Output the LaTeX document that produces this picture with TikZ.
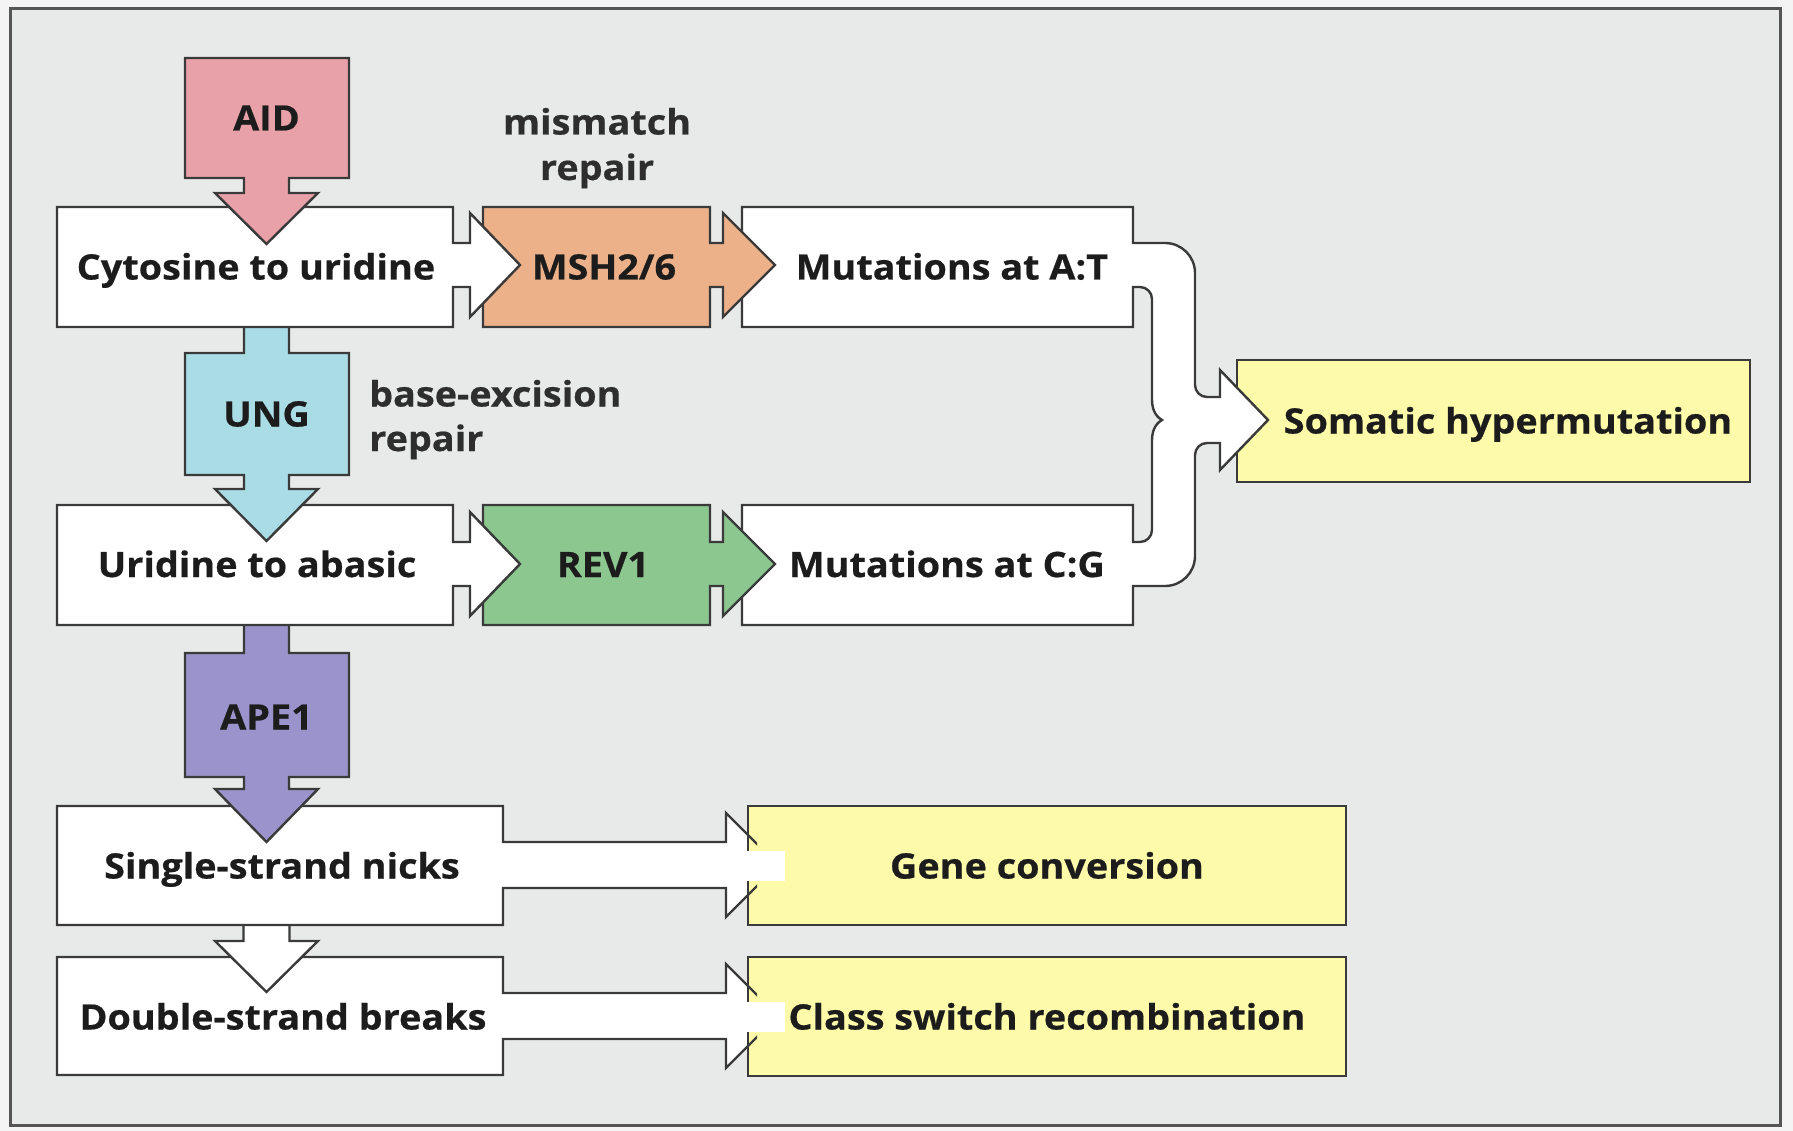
\documentclass[tikz,border=0pt]{standalone}
\usepackage{fontspec}
\setmainfont{Open Sans}[BoldFeatures={FakeStretch=1.08,FakeBold=0.5}]
\definecolor{pagebg}{HTML}{F4F4F4}
\definecolor{panelbg}{HTML}{E8E9E9}
\definecolor{framec}{HTML}{555555}
\definecolor{linec}{HTML}{3A3A3A}
\definecolor{textc}{HTML}{1C1C1C}
\definecolor{notec}{HTML}{2E2E2E}
\definecolor{aidc}{HTML}{E9A1A9}
\definecolor{mshc}{HTML}{EDB189}
\definecolor{ungc}{HTML}{A9DCE4}
\definecolor{revc}{HTML}{8DC790}
\definecolor{apec}{HTML}{9B94CC}
\definecolor{outc}{HTML}{FDFAAA}
\begin{document}
\begin{tikzpicture}[x=1pt,y=-1pt,line join=miter,
  outline/.style={draw=linec,line width=2.4pt},
  lbl/.style={font=\fontsize{35}{45}\selectfont\bfseries,text=textc,inner sep=0pt,anchor=base},
  note/.style={font=\fontsize{35}{45}\selectfont\bfseries,text=notec,inner sep=0pt}]

% canvas and panel
\fill[pagebg] (0,0) rectangle (1793,1131);
\useasboundingbox (0,0) rectangle (1793,1131);
\draw[fill=panelbg,draw=framec,line width=3pt] (10,9) rectangle (1780,1125);

% outcome box for the mutation branch
\draw[outline,fill=outc] (1237,360) rectangle (1750,482);

% the two mutation boxes joined by the brace arrow
\draw[outline,fill=white] (742,207) -- (1133,207) -- (1133,243) -- (1165,243)
  .. controls (1181.6,243) and (1195,256.4) .. (1195,273) -- (1195,385)
  .. controls (1195,391.6) and (1200.4,397) .. (1207,397) -- (1220,397) -- (1220,370)
  -- (1268,420) -- (1220,470) -- (1220,443) -- (1207,443)
  .. controls (1200.4,443) and (1195,448.4) .. (1195,455) -- (1195,556)
  .. controls (1195,572.6) and (1181.6,586) .. (1165,586) -- (1133,586)
  -- (1133,625) -- (742,625) -- (742,505) -- (1133,505) -- (1133,542) -- (1140,542)
  .. controls (1146.6,542) and (1152,536.6) .. (1152,530) -- (1152,440)
  .. controls (1152,428) and (1158,422) .. (1162,420)
  .. controls (1158,418) and (1152,412) .. (1152,400) -- (1152,299)
  .. controls (1152,292.4) and (1146.6,287) .. (1140,287) -- (1133,287)
  -- (1133,327) -- (742,327) -- cycle;

% repair enzymes with their arrows
\draw[outline,fill=mshc] (483,207) -- (710,207) -- (710,243) -- (723,243) -- (723,213)
  -- (775,265) -- (723,317) -- (723,287) -- (710,287) -- (710,327) -- (483,327) -- cycle;
\draw[outline,fill=revc] (483,505) -- (710,505) -- (710,542) -- (723,542) -- (723,512)
  -- (775,564) -- (723,616) -- (723,586) -- (710,586) -- (710,625) -- (483,625) -- cycle;

% double-strand breaks with its arrow
\draw[outline,fill=white] (57,957) -- (503,957) -- (503,993) -- (726,993) -- (726,964)
  -- (778,1016) -- (726,1068) -- (726,1039) -- (503,1039) -- (503,1075) -- (57,1075) -- cycle;

% plain arrow from nicks to breaks
\draw[outline,fill=white] (243.5,918) -- (243.5,941) -- (215,941) -- (266.5,992) -- (318,941)
  -- (289.5,941) -- (289.5,918) -- cycle;

% single-strand nicks with its arrow
\draw[outline,fill=white] (57,806) -- (503,806) -- (503,842) -- (726,842) -- (726,813)
  -- (778,865) -- (726,917) -- (726,888) -- (503,888) -- (503,925) -- (57,925) -- cycle;

% outcome boxes of the break branch
\draw[outline,fill=outc] (748,806) rectangle (1346,925);
\draw[outline,fill=outc] (748,957) rectangle (1346,1076);
\fill[white] (746,851) rectangle (785,881);
\fill[white] (746,1002) rectangle (785,1032);
\begin{scope}
  \clip (747,790) rectangle (757,1090);
  \draw[outline] (726,813) -- (778,865) -- (726,917);
  \draw[outline] (726,964) -- (778,1016) -- (726,1068);
\end{scope}

% APE1 arrow
\draw[outline,fill=apec] (244,620) -- (244,653) -- (185,653) -- (185,777) -- (244,777) -- (244,789)
  -- (215,789) -- (266.5,842) -- (318,789) -- (289,789) -- (289,777) -- (349,777) -- (349,653)
  -- (289,653) -- (289,620) -- cycle;

% uridine to abasic with its arrow
\draw[outline,fill=white] (57,505) -- (453,505) -- (453,542) -- (470,542) -- (470,512)
  -- (520,564) -- (470,616) -- (470,586) -- (453,586) -- (453,625) -- (57,625) -- cycle;

% UNG arrow
\draw[outline,fill=ungc] (244,320) -- (244,353) -- (185,353) -- (185,475) -- (244,475) -- (244,489)
  -- (215,489) -- (266.5,541) -- (318,489) -- (289,489) -- (289,475) -- (349,475) -- (349,353)
  -- (289,353) -- (289,320) -- cycle;

% cytosine to uridine with its arrow
\draw[outline,fill=white] (57,207) -- (453,207) -- (453,243) -- (470,243) -- (470,213)
  -- (520,265) -- (470,317) -- (470,287) -- (453,287) -- (453,327) -- (57,327) -- cycle;

% AID arrow
\draw[outline,fill=aidc] (185,58) -- (349,58) -- (349,178) -- (289,178) -- (289,193) -- (318,193)
  -- (266.5,244) -- (215,193) -- (244,193) -- (244,178) -- (185,178) -- cycle;

% labels (placed on their baselines)
\node[lbl] (aid) at (266.5,130.5) {AID};
\node[note,anchor=base] (mmr1) at (597,134.5) {mismatch};
\node[note,anchor=base] (mmr2) at (597,180) {repair};
\node[lbl] (cyt) at (256,279.5) {Cytosine to uridine};
\node[lbl] (msh) at (604,279.5) {MSH2/6};
\node[lbl] (mat) at (952,279.5) {Mutations at A:T};
\node[lbl] (ung) at (266.5,426.5) {UNG};
\node[note,anchor=base west] (ber1) at (369,406.5) {base-excision};
\node[note,anchor=base west] (ber2) at (369,451) {repair};
\node[lbl] (shm) at (1508,433.5) {Somatic hypermutation};
\node[lbl] (uri) at (257,577) {Uridine to abasic};
\node[lbl] (rev) at (603,577) {REV1};
\node[lbl] (mcg) at (947,577) {Mutations at C:G};
\node[lbl] (ape) at (266.5,729.5) {APE1};
\node[lbl] (ssn) at (282,878.5) {Single-strand nicks};
\node[lbl] (gcv) at (1047,878.5) {Gene conversion};
\node[lbl] (dsb) at (283,1029.5) {Double-strand breaks};
\node[lbl] (csr) at (1047,1029.5) {Class switch recombination};
\end{tikzpicture}
\end{document}
